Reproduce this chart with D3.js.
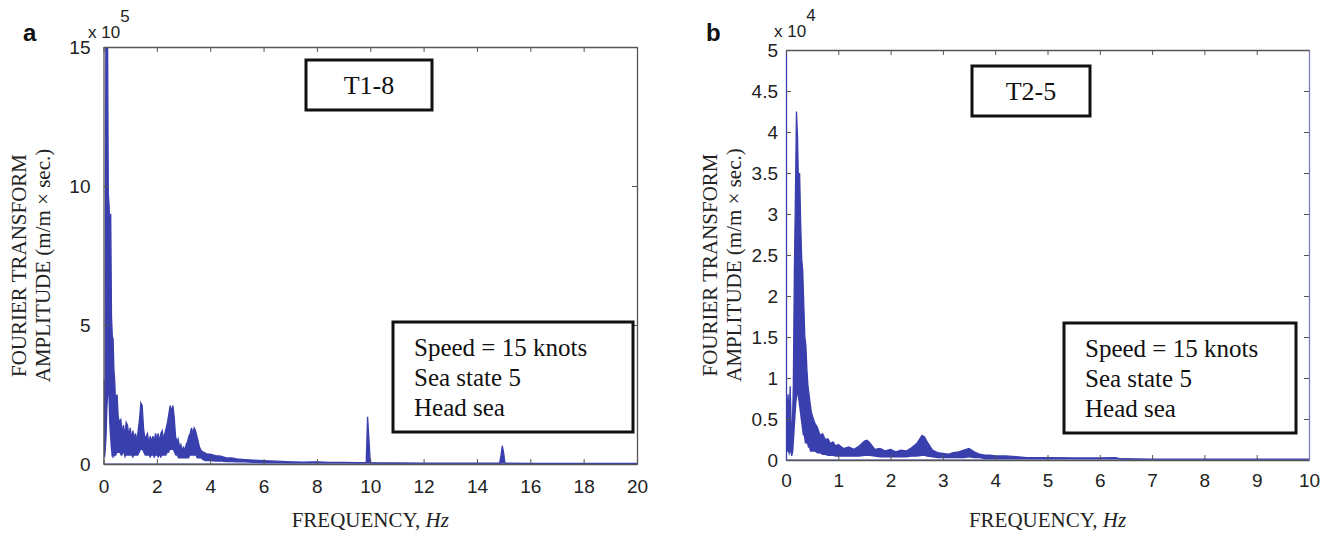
<!DOCTYPE html>
<html>
<head>
<meta charset="utf-8">
<script src="https://cdn.jsdelivr.net/npm/d3@7"></script>
<style>
  body { margin: 0; background: #fff; }
  svg { display: block; }
</style>
</head>
<body>
<div id="chart"></div>
<script>
// Panel a: T1-8, amplitude in units of 1e5
const freqA = [0.00,0.03,0.06,0.09,0.12,0.15,0.18,0.21,0.24,0.27,0.30,0.33,0.36,0.39,0.42,0.45,0.48,0.51,0.55,0.60,
  0.65,0.70,0.75,0.80,0.85,0.90,0.95,1.00,1.05,1.10,1.15,1.20,1.25,1.30,1.35,1.40,1.45,1.50,1.55,1.60,
  1.65,1.70,1.75,1.80,1.85,1.90,1.95,2.00,2.05,2.10,2.15,2.20,2.25,2.30,2.35,2.40,2.45,2.50,2.55,2.60,
  2.65,2.70,2.75,2.80,2.85,2.90,2.95,3.00,3.05,3.10,3.15,3.20,3.25,3.30,3.35,3.40,3.45,3.50,3.55,3.60,
  3.65,3.70,3.80,3.90,4.00,4.20,4.40,4.60,4.80,5.00,5.30,5.60,6.00,6.50,7.00,7.50,8.00,8.50,9.00,9.50,
  9.85,9.90,9.95,10.00,10.50,11.00,12.00,13.00,14.00,14.85,14.90,14.95,15.00,15.05,16.00,17.00,18.00,19.00,20.00];
const highA = [2.9,3.0,2.6,16,16,16,9.7,9.3,8.0,9.0,5.3,4.6,4.5,3.4,3.0,2.2,2.4,2.5,1.7,1.5,
  1.6,1.1,1.4,1.0,1.5,1.4,1.0,1.3,0.9,1.2,0.9,1.1,0.8,1.2,1.6,2.2,2.1,1.3,0.9,1.0,
  1.1,0.7,1.0,0.8,1.0,0.8,1.1,0.9,1.1,0.8,1.1,1.2,0.9,1.1,1.3,1.5,1.8,2.1,1.9,2.1,
  1.7,1.0,0.8,0.9,0.6,0.7,0.5,0.6,0.5,0.7,0.8,1.0,1.1,1.3,1.1,1.3,1.2,1.0,0.8,0.6,
  0.5,0.45,0.4,0.35,0.35,0.3,0.28,0.22,0.22,0.18,0.16,0.14,0.12,0.1,0.08,0.07,0.08,0.06,0.06,0.05,
  0.05,1.7,0.9,0.05,0.04,0.04,0.03,0.03,0.03,0.03,0.3,0.65,0.4,0.03,0.02,0.02,0.02,0.02,0.02];
const lowA = [0,0.3,0.2,0.5,1.0,2.0,2.5,1.5,1.0,0.6,0.3,0.2,0.3,0.2,0.3,0.3,0.3,0.4,0.4,0.4,
  0.3,0.3,0.4,0.2,0.3,0.3,0.3,0.3,0.3,0.2,0.3,0.3,0.3,0.3,0.4,0.5,0.5,0.4,0.3,0.3,
  0.3,0.3,0.2,0.3,0.3,0.2,0.3,0.3,0.2,0.3,0.2,0.3,0.3,0.3,0.3,0.4,0.4,0.5,0.5,0.5,
  0.4,0.3,0.3,0.2,0.2,0.2,0.2,0.2,0.2,0.2,0.2,0.2,0.3,0.3,0.3,0.3,0.3,0.2,0.2,0.2,
  0.2,0.15,0.1,0.1,0.1,0.08,0.08,0.06,0.06,0.05,0.05,0.04,0.03,0.03,0.02,0.02,0.02,0.02,0.02,0.02,
  0.02,0.02,0.02,0.02,0.01,0.01,0.01,0.01,0.01,0.01,0.01,0.02,0.02,0.01,0.01,0.01,0.01,0.01,0.01];
const xTicksA = [0,2,4,6,8,10,12,14,16,18,20];
const yTicksA = [0,5,10,15];

// Panel b: T2-5, amplitude in units of 1e4
const freqB = [0.00,0.02,0.04,0.06,0.08,0.10,0.12,0.14,0.16,0.18,0.20,0.22,0.24,0.26,0.28,0.30,0.32,0.34,0.36,0.38,
  0.40,0.42,0.44,0.46,0.48,0.50,0.55,0.60,0.65,0.70,0.75,0.80,0.85,0.90,0.95,1.00,1.10,1.20,1.30,1.40,
  1.50,1.55,1.60,1.70,1.80,1.90,2.00,2.10,2.20,2.30,2.40,2.50,2.60,2.65,2.70,2.80,2.90,3.00,3.10,3.20,
  3.30,3.40,3.50,3.60,3.70,3.80,3.90,4.00,4.20,4.40,4.60,5.00,5.50,6.00,6.30,6.40,7.00,8.00,9.00,10.00];
const highB = [0.8,0.6,0.8,0.5,0.9,0.4,0.35,0.9,2.3,3.2,4.25,3.95,3.3,3.5,2.9,2.45,2.3,1.9,1.5,1.4,
  1.1,0.9,0.8,0.7,0.6,0.55,0.45,0.4,0.3,0.32,0.25,0.26,0.2,0.22,0.17,0.19,0.14,0.16,0.13,0.17,
  0.23,0.24,0.21,0.13,0.14,0.11,0.13,0.1,0.12,0.11,0.15,0.2,0.3,0.28,0.22,0.12,0.09,0.08,0.07,0.09,
  0.1,0.12,0.14,0.1,0.07,0.06,0.06,0.05,0.05,0.04,0.03,0.03,0.025,0.025,0.03,0.015,0.01,0.01,0.01,0.01];
const lowB = [0,0.1,0.1,0.05,0.1,0.05,0.05,0.1,0.3,0.5,0.7,0.8,0.7,0.6,0.5,0.4,0.3,0.3,0.2,0.2,
  0.2,0.15,0.15,0.1,0.1,0.1,0.1,0.08,0.08,0.06,0.06,0.05,0.05,0.05,0.04,0.04,0.04,0.04,0.04,0.04,
  0.05,0.05,0.05,0.04,0.03,0.03,0.03,0.03,0.03,0.03,0.04,0.04,0.05,0.05,0.04,0.03,0.02,0.02,0.02,0.02,
  0.02,0.02,0.03,0.02,0.02,0.01,0.01,0.01,0.01,0.01,0.01,0.01,0.01,0.01,0.01,0.005,0.005,0.005,0.005,0.005];
const xTicksB = [0,1,2,3,4,5,6,7,8,9,10];
const yTicksB = [0,0.5,1,1.5,2,2.5,3,3.5,4,4.5,5];

const legendLines = ["Speed = 15 knots", "Sea state 5", "Head sea"];

const W = 1330, H = 535;
const blue = "#3a3fae";
const axisColor = "#555";
const sans = "'Liberation Sans', Arial, sans-serif";
const serif = "'Liberation Serif', 'Times New Roman', serif";

const svg = d3.select("#chart").append("svg")
  .attr("width", W).attr("height", H);

function drawPanel(p) {
  const x = d3.scaleLinear().domain([0, p.xMax]).range([p.left, p.right]);
  const y = d3.scaleLinear().domain([0, p.yMax]).range([p.bottom, p.top]);
  const g = svg.append("g");

  const pts = p.freq.map((f, i) => ({ f, hi: p.high[i], lo: p.low[i] }));

  const clip = "clip-" + p.id;
  g.append("clipPath").attr("id", clip).append("rect")
    .attr("x", p.left).attr("y", p.top)
    .attr("width", p.right - p.left).attr("height", p.bottom - p.top);

  const data = g.append("g").attr("clip-path", `url(#${clip})`);
  data.append("path")
    .datum(pts)
    .attr("fill", blue)
    .attr("d", d3.area().x(d => x(d.f)).y0(d => y(d.lo)).y1(d => y(d.hi)));
  data.append("path")
    .datum(pts)
    .attr("fill", "none")
    .attr("stroke", blue)
    .attr("stroke-width", 1.3)
    .attr("d", d3.line().x(d => x(d.f)).y(d => y(d.hi)));
  data.append("line")
    .attr("x1", p.left).attr("x2", p.right)
    .attr("y1", y(0)).attr("y2", y(0))
    .attr("stroke", blue).attr("stroke-width", 1);

  // axes on all four sides, ticks inward
  const ax = (axis, tr) => g.append("g").attr("transform", tr).call(axis)
    .call(s => s.select(".domain").attr("stroke", axisColor).attr("stroke-width", 1.3))
    .call(s => s.selectAll(".tick line").attr("stroke", axisColor));
  const fmt = d3.format("~g");

  const bottom = ax(d3.axisBottom(x).tickValues(p.xTicks).tickFormat(fmt)
      .tickSizeInner(-5).tickSizeOuter(0).tickPadding(p.xPad),
    `translate(0,${p.bottom})`);
  bottom.selectAll("text").attr("font-family", sans).attr("font-size", 19).attr("fill", "#222");
  const left = ax(d3.axisLeft(y).tickValues(p.yTicks).tickFormat(fmt)
      .tickSizeInner(-5).tickSizeOuter(0).tickPadding(p.yPad),
    `translate(${p.left},0)`);
  left.selectAll("text").attr("font-family", sans).attr("font-size", 19).attr("fill", "#222");
  ax(d3.axisTop(x).tickValues(p.xTicks).tickSizeInner(-5).tickSizeOuter(0).tickFormat(""),
    `translate(0,${p.top})`);
  ax(d3.axisRight(y).tickValues(p.yTicks).tickSizeInner(-5).tickSizeOuter(0).tickFormat(""),
    `translate(${p.right},0)`);

  if (p.blueSpines) {
    g.selectAll(".domain").filter((d, i) => i === 1).attr("stroke", blue);
    g.selectAll(".domain").filter((d, i) => i === 3).attr("stroke", "#7d80c0");
  }

  // exponent label
  const ex = g.append("text").attr("font-family", sans).attr("fill", "#222")
    .attr("x", p.expX).attr("y", p.expY).attr("font-size", 17);
  ex.append("tspan").text("x 10");
  ex.append("tspan").attr("dy", -16).attr("font-size", 17).text(p.exp);

  // panel letter
  g.append("text").attr("x", p.letterX).attr("y", 41)
    .attr("font-family", sans).attr("font-weight", "bold").attr("font-size", 24)
    .attr("fill", "#111").text(p.letter);

  // axis titles
  const cy = (p.top + p.bottom) / 2 + 10;
  [["FOURIER TRANSFORM", p.ylabX], ["AMPLITUDE (m/m \u00d7 sec.)", p.ylabX + 24]].forEach(([t, xx]) => {
    g.append("text")
      .attr("transform", `translate(${xx},${cy}) rotate(-90)`)
      .attr("text-anchor", "middle")
      .attr("font-family", serif).attr("font-size", 21).attr("fill", "#222")
      .text(t);
  });
  const xt = g.append("text")
    .attr("x", (p.left + p.right) / 2).attr("y", 527)
    .attr("text-anchor", "middle")
    .attr("font-family", serif).attr("font-size", 21).attr("fill", "#222");
  xt.append("tspan").text("FREQUENCY, ");
  xt.append("tspan").attr("font-style", "italic").text("Hz");

  // title box
  g.append("rect").attr("x", p.tBox[0]).attr("y", p.tBox[1])
    .attr("width", p.tBox[2]).attr("height", p.tBox[3])
    .attr("fill", "#fff").attr("stroke", "#111").attr("stroke-width", 3);
  g.append("text")
    .attr("x", p.tBox[0] + p.tBox[2] / 2).attr("y", p.tBox[1] + p.tBox[3] / 2 + 9)
    .attr("text-anchor", "middle")
    .attr("font-family", serif).attr("font-size", 26).attr("fill", "#111")
    .text(p.title);

  // legend box
  g.append("rect").attr("x", p.lBox[0]).attr("y", p.lBox[1])
    .attr("width", p.lBox[2]).attr("height", p.lBox[3])
    .attr("fill", "#fff").attr("stroke", "#111").attr("stroke-width", 3);
  legendLines.forEach((t, i) => {
    g.append("text")
      .attr("x", p.lBox[0] + 21).attr("y", p.lBox[1] + 34 + i * 30)
      .attr("font-family", serif).attr("font-size", 25).attr("fill", "#111")
      .text(t);
  });
}

drawPanel({
  id: "a", letter: "a", letterX: 23, title: "T1-8", exp: "5", expX: 88, expY: 38,
  freq: freqA, high: highA, low: lowA, xTicks: xTicksA, yTicks: yTicksA,
  xMax: 20, yMax: 15, left: 103.5, right: 637, top: 47, bottom: 464,
  xPad: 16, yPad: 13,
  ylabX: 26, tBox: [306, 60, 126, 50], lBox: [393, 322, 240, 110]
});

drawPanel({
  id: "b", letter: "b", letterX: 706, title: "T2-5", exp: "4", expX: 774, expY: 37,
  freq: freqB, high: highB, low: lowB, xTicks: xTicksB, yTicks: yTicksB,
  xMax: 10, yMax: 5, left: 786, right: 1309, top: 50, bottom: 460,
  xPad: 14, yPad: 8,
  ylabX: 717, tBox: [972, 66, 118, 50], lBox: [1064, 323, 232, 110], blueSpines: true
});
</script>
</body>
</html>
